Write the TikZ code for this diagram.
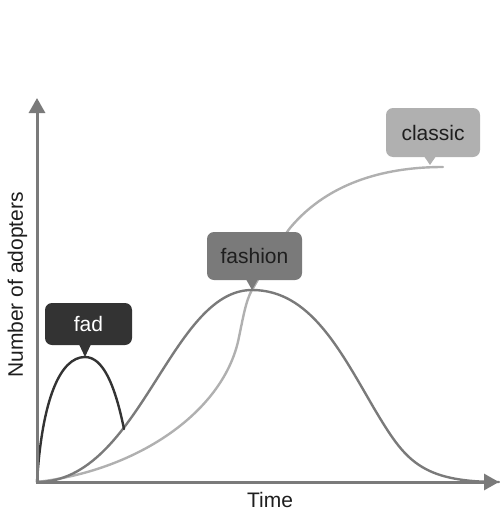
\documentclass[tikz,border=0pt]{standalone}
\usepackage{fontspec}
\setmainfont{Liberation Sans}
\usetikzlibrary{arrows.meta}
\definecolor{axisgray}{HTML}{7A7A7A}
\definecolor{fadcol}{HTML}{333333}
\definecolor{fashcol}{HTML}{7A7A7A}
\definecolor{classcol}{HTML}{B0B0B0}
\definecolor{textdark}{HTML}{1E1E1E}
\begin{document}
\begin{tikzpicture}[x=1pt,y=-1pt,
  axisline/.style={draw=axisgray,line width=3pt,-{Triangle[width=16pt,length=15pt]}},
  curveline/.style={line width=2.4pt,line cap=round},
  bubble/.style={rounded corners=7pt,inner sep=0pt,font=\fontsize{21}{25}\selectfont},
  labeltext/.style={text=textdark,font=\fontsize{21}{25}\selectfont}
]
\useasboundingbox (0,0) rectangle (499,511);
% key points
\coordinate (O) at (37,482);
\coordinate (ytip) at (37,98);
\coordinate (xstart) at (35.5,482);
\coordinate (xtip) at (499,482);
\coordinate (fadpeak) at (85,357);
\coordinate (fadend) at (124,429);
\coordinate (fashpeak) at (252,290);
\coordinate (fashmid) at (375,410);
\coordinate (fashend) at (499,482);
\coordinate (classa) at (239,337);
\coordinate (classb) at (290,228);
\coordinate (classend) at (443,167);
\coordinate (classtip) at (430,165);
% curves
\draw[curveline,classcol] (O) .. controls (140,470) and (225,410) .. (classa)
  .. controls (243,318) and (246,300) .. (fashpeak)
  .. controls (259,278) and (275,248) .. (classb)
  .. controls (330,180) and (390,167) .. (classend);
\draw[curveline,fashcol] (O) .. controls (140,482) and (170,290) .. (fashpeak)
  .. controls (310,290) and (340,350) .. (fashmid)
  .. controls (405,460) and (420,482) .. (fashend);
\draw[curveline,fadcol] (O) .. controls (42,400) and (60,357) .. (fadpeak)
  .. controls (103,357) and (115,385) .. (fadend);
% axes
\draw[axisline] ([yshift=-1.5pt]O) -- (ytip);
\draw[axisline] (xstart) -- (xtip);
% axis labels
\node[labeltext,anchor=base] (timelabel) at (270,507) {Time};
\node[labeltext,anchor=base,rotate=90] (ylabel) at (23,285) {Number of adopters};
% bubbles
\node[bubble,fill=fadcol,text=white,minimum width=87pt,minimum height=42pt] (fad) at (88.5,324) {fad};
\node[bubble,fill=fashcol,text=textdark,minimum width=95pt,minimum height=48pt] (fashion) at (254.5,256) {fashion};
\node[bubble,fill=classcol,text=textdark,minimum width=94pt,minimum height=49pt] (classic) at (433,132.5) {classic};
% pointers
\coordinate (fadbase) at (fad.south -| fadpeak);
\coordinate (fashbase) at (fashion.south -| fashpeak);
\coordinate (classbase) at (classic.south -| classtip);
\fill[fadcol] ([xshift=-6pt,yshift=1pt]fadbase) -- ([xshift=6pt,yshift=1pt]fadbase) -- (fadpeak) -- cycle;
\fill[fashcol] ([xshift=-6pt,yshift=1pt]fashbase) -- ([xshift=6pt,yshift=1pt]fashbase) -- (fashpeak) -- cycle;
\fill[classcol] ([xshift=-6pt,yshift=1pt]classbase) -- ([xshift=6pt,yshift=1pt]classbase) -- (classtip) -- cycle;
\end{tikzpicture}
\end{document}
